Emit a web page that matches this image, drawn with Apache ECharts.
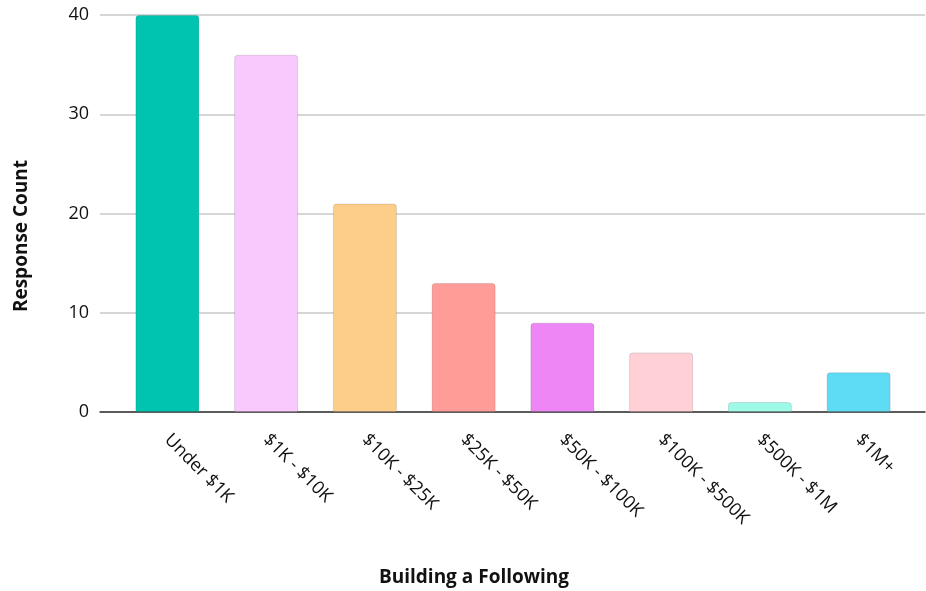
<!DOCTYPE html>
<html><head><meta charset="utf-8">
<script src="https://cdn.jsdelivr.net/npm/echarts@6/dist/echarts.min.js"></script>
<style>html,body{margin:0;padding:0;background:#fff;overflow:hidden}#c{width:926px;height:591px}</style>
</head><body><div id="c"></div>
<script>
const categories = ["Under $1K", "$1K - $10K", "$10K - $25K", "$25K - $50K", "$50K - $100K", "$100K - $500K", "$500K - $1M", "$1M+"];
const values = [40, 36, 21, 13, 9, 6, 1, 4];
const colors = ["#00C4B0", "#F9C8FC", "#FDCD8A", "#FF9C97", "#EE86F5", "#FFD0D6", "#9EFAE6", "#5FDCF5"];
const yTicks = [0, 10, 20, 30, 40];
const xTitle = "Building a Following";
const yTitle = "Response Count";
const FONT = "Open Sans";
const chart = echarts.init(document.getElementById('c'));
chart.setOption({
  animation: false,
  textStyle: {fontFamily: FONT},
  grid: [
    {left: 100, right: 1, top: 15, bottom: 179},
    {left: 118, right: 18, top: 15, bottom: 179}
  ],
  graphic: [
    {type: 'text', x: 474, y: 578, style: {text: xTitle, fontFamily: FONT, fontWeight: 'bold', fontSize: 19, fill: '#111', align: 'center', verticalAlign: 'middle'}},
    {type: 'text', x: 22, y: 236, rotation: Math.PI / 2, style: {text: yTitle, fontFamily: FONT, fontWeight: 'bold', fontSize: 19, fill: '#111', align: 'center', verticalAlign: 'middle'}}
  ],
  xAxis: [
    {type: 'category', gridIndex: 0, data: [''], axisLine: {show: true, lineStyle: {color: '#333', width: 1.5}}, axisTick: {show: false}, axisLabel: {show: false}},
    {type: 'category', gridIndex: 1, data: categories, axisLine: {show: false}, axisTick: {show: false},
     axisLabel: {rotate: -45, margin: 25, fontSize: 18, color: '#111', fontFamily: FONT, interval: 0}}
  ],
  yAxis: [
    {type: 'value', gridIndex: 0, min: 0, max: 40, interval: 10, axisLine: {show: false}, axisTick: {show: false},
     axisLabel: {fontSize: 18, color: '#111', margin: 11, fontFamily: FONT, formatter: v => yTicks.includes(v) ? String(v) : ''},
     splitLine: {lineStyle: {color: '#c8c8c8', width: 1.5}}},
    {type: 'value', gridIndex: 1, min: 0, max: 40, interval: 10, show: false}
  ],
  series: [{
    type: 'bar', xAxisIndex: 1, yAxisIndex: 1, barWidth: 64, z: 3,
    data: values.map((v, i) => ({value: v, itemStyle: {color: colors[i]}})),
    itemStyle: {borderRadius: [3, 3, 0, 0], borderColor: 'rgba(0,0,0,0.12)', borderWidth: 1}
  }]
});
</script></body></html>
